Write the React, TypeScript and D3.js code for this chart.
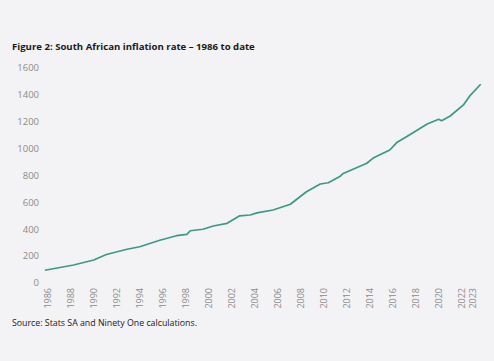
import React, { useRef, useEffect } from 'react';
import * as d3 from 'd3';

// readings (year as decimal)
const years = [
  1985.75, 1988.25, 1990.0, 1991.1, 1992.9, 1994.0, 1995.75, 1997.2, 1998.1, 1998.4,
  1999.5, 2000.4, 2001.6, 2002.7, 2003.6, 2004.2, 2005.6, 2007.1, 2008.5, 2009.7,
  2010.4, 2011.4, 2011.7, 2013.75, 2014.3, 2015.75, 2016.35, 2017.2, 2018.4, 2019.0,
  2020.0, 2020.25, 2021.0, 2022.15, 2022.7, 2023.65,
];
const values = [
  95, 134, 171, 212, 251, 270, 318, 352, 362, 389,
  400, 424, 444, 500, 506, 522, 543, 586, 679, 737,
  746, 792, 815, 891, 930, 990, 1045, 1089, 1151, 1183,
  1218, 1208, 1243, 1325, 1392, 1479,
];
const yTicks = [0, 200, 400, 600, 800, 1000, 1200, 1400, 1600];
const xTicks = [1986, 1988, 1990, 1992, 1994, 1996, 1998, 2000, 2002, 2004, 2006, 2008, 2010, 2012, 2014, 2016, 2018, 2020, 2022, 2023];

const title = 'Figure 2: South African inflation rate \u2013 1986 to date';
const source = 'Source: Stats SA and Ninety One calculations.';

const W = 494;
const H = 361;

const InflationChart: React.FC = () => {
  const svgRef = useRef<SVGSVGElement | null>(null);

  useEffect(() => {
    const svg = d3.select(svgRef.current)
      .attr('width', W)
      .attr('height', H)
      .style('position', 'absolute')
      .style('left', 0)
      .style('top', 0)
      .style('background', '#f3f2f4');

    const x = d3.scaleLinear().domain([1986, 2023]).range([47.7, 473.2]);
    const y = d3.scaleLinear().domain([0, 1600]).range([283, 68]);

    svg.append('text')
      .attr('x', 12)
      .attr('y', 50)
      .text(title)
      .style('font-family', '"Open Sans", sans-serif')
      .style('font-weight', 700)
      .style('font-size', '9.6px')
      .attr('fill', '#1a1a1a');

    // y axis labels, no lines
    svg.append('g')
      .selectAll('text')
      .data(yTicks)
      .enter()
      .append('text')
      .attr('x', 39)
      .attr('y', d => y(d))
      .attr('dy', '0.35em')
      .attr('text-anchor', 'end')
      .text(d => d)
      .style('font-family', '"Open Sans", sans-serif')
      .style('font-size', '9.5px')
      .attr('fill', '#8c8c8c');

    // x labels rotated
    svg.append('g')
      .selectAll('text')
      .data(xTicks)
      .enter()
      .append('text')
      .attr('transform', d => `translate(${x(d)},288) rotate(-90)`)
      .attr('dy', '0.35em')
      .attr('text-anchor', 'end')
      .text(d => d)
      .style('font-family', '"Open Sans", sans-serif')
      .style('font-size', '9px')
      .attr('fill', '#8c8c8c');

    const line = d3.line<number>()
      .x((d, i) => x(years[i]))
      .y(d => y(d))
      .curve(d3.curveLinear);

    svg.append('path')
      .datum(values)
      .attr('d', line)
      .attr('fill', 'none')
      .attr('stroke', '#3b9985')
      .attr('stroke-width', 1.7)
      .attr('stroke-linejoin', 'round');

    svg.append('text')
      .attr('x', 12)
      .attr('y', 326)
      .text(source)
      .style('font-family', '"Open Sans", sans-serif')
      .style('font-size', '8.8px')
      .attr('fill', '#1a1a1a');

    return () => {
      svg.selectAll('*').remove();
    };
  }, []);

  return <svg ref={svgRef}></svg>;
};

export default function App() {
  return <InflationChart />;
}
